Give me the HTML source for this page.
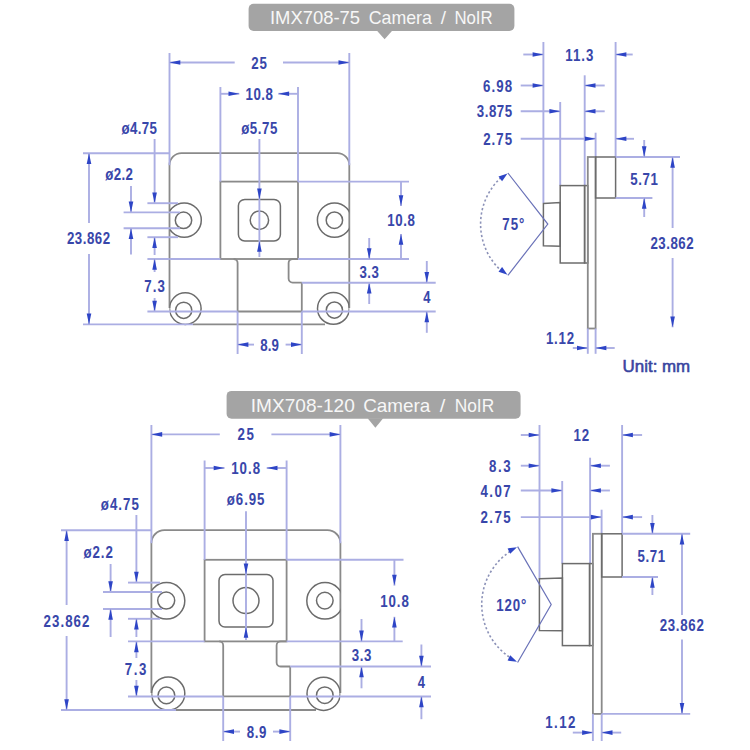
<!DOCTYPE html>
<html><head><meta charset="utf-8"><style>
html,body{margin:0;padding:0;background:#fff;width:750px;height:750px;overflow:hidden}
svg{display:block}
.t{font-family:"Liberation Sans",sans-serif;font-weight:bold;fill:#3846aa;stroke:#3846aa;stroke-width:0.05}
.lb{font-family:"Liberation Sans",sans-serif;fill:#f7f7f7}
.un{font-family:"Liberation Sans",sans-serif;fill:#3a44a0;stroke:#3a44a0;stroke-width:0.55}
</style></head><body>
<svg width="750" height="750" viewBox="0 0 750 750">
<rect x="248.6" y="3.8" width="265.8" height="27.2" rx="5" fill="#a4a4a4"/>
<polygon points="376.8,30.5 392.40000000000003,30.5 384.6,39.2" fill="#a4a4a4"/>
<text x="270.00" y="24.3" textLength="90.02" lengthAdjust="spacingAndGlyphs" font-size="19" class="lb">IMX708-75</text>
<text x="368.70" y="24.3" textLength="63.24" lengthAdjust="spacingAndGlyphs" font-size="19" class="lb">Camera</text>
<text x="440.70" y="24.3" textLength="5.26" lengthAdjust="spacingAndGlyphs" font-size="19" class="lb">/</text>
<text x="454.40" y="24.3" textLength="38.27" lengthAdjust="spacingAndGlyphs" font-size="19" class="lb">NoIR</text>
<path d="M169.5,308 L169.5,165.2 A12,12 0 0 1 181.5,153.2 L337.3,153.2 A12,12 0 0 1 349.3,165.2 L349.3,308" fill="none" stroke="#8a8a8a" stroke-width="1.8"/>
<line x1="193" y1="324.4" x2="325" y2="324.4" stroke="#8a8a8a" stroke-width="1.8"/>
<clipPath id="cl1"><rect x="169.5" y="0" width="200" height="750"/></clipPath>
<clipPath id="cr1"><rect x="100" y="0" width="249.3" height="750"/></clipPath>
<circle cx="184.2" cy="220.1" r="17.1" fill="none" stroke="#6c6c6c" stroke-width="1.5" clip-path="url(#cl1)"/>
<circle cx="183.5" cy="220.3" r="8.2" fill="none" stroke="#6c6c6c" stroke-width="1.5"/>
<circle cx="334.5" cy="220.1" r="17.1" fill="none" stroke="#6c6c6c" stroke-width="1.5" clip-path="url(#cr1)"/>
<circle cx="334.4" cy="220.2" r="8.2" fill="none" stroke="#6c6c6c" stroke-width="1.5"/>
<circle cx="185.3" cy="308.6" r="15.8" fill="none" stroke="#6c6c6c" stroke-width="1.5" clip-path="url(#cl1)"/>
<circle cx="183.7" cy="310.3" r="8.1" fill="none" stroke="#6c6c6c" stroke-width="1.5"/>
<circle cx="333.4" cy="308.4" r="15.9" fill="none" stroke="#6c6c6c" stroke-width="1.5" clip-path="url(#cr1)"/>
<circle cx="334.4" cy="310.1" r="8.1" fill="none" stroke="#6c6c6c" stroke-width="1.5"/>
<rect x="220.4" y="181.6" width="77.6" height="77.4" fill="none" stroke="#8a8a8a" stroke-width="1.8"/>
<rect x="238.4" y="199.4" width="42" height="41.6" rx="6.4" fill="none" stroke="#6c6c6c" stroke-width="1.5"/>
<circle cx="259.4" cy="220.2" r="9.2" fill="none" stroke="#6c6c6c" stroke-width="1.5"/>
<path d="M233.6,259 A4,4 0 0 1 237.6,263 L237.6,311.5 L301.8,311.5 L301.8,282.6" fill="none" stroke="#8a8a8a" stroke-width="1.8"/>
<path d="M298,259 L292.6,259 A4,4 0 0 0 288.6,263 L288.6,278.6 A4,4 0 0 0 292.6,282.6 L301.8,282.6" fill="none" stroke="#8a8a8a" stroke-width="1.8"/>
<line x1="169.5" y1="53" x2="169.5" y2="165.2" stroke="#abaee3" stroke-width="1.9"/>
<line x1="349.3" y1="53" x2="349.3" y2="165.2" stroke="#abaee3" stroke-width="1.9"/>
<line x1="169.5" y1="62.5" x2="234.7" y2="62.5" stroke="#abaee3" stroke-width="1.9"/>
<line x1="283" y1="62.5" x2="349.3" y2="62.5" stroke="#abaee3" stroke-width="1.9"/>
<polygon points="169.5,62.5 180.3,60.2 180.3,64.8" fill="#2e45c6"/>
<polygon points="349.3,62.5 338.5,60.2 338.5,64.8" fill="#2e45c6"/>
<text transform="translate(259.05,68.71) scale(0.85,1)" x="0" y="0" text-anchor="middle" textLength="18.47" lengthAdjust="spacing" font-size="15.6" class="t">25</text>
<line x1="220.4" y1="87" x2="220.4" y2="181.6" stroke="#abaee3" stroke-width="1.9"/>
<line x1="298" y1="87" x2="298" y2="181.6" stroke="#abaee3" stroke-width="1.9"/>
<line x1="220.4" y1="93.8" x2="239.3" y2="93.8" stroke="#abaee3" stroke-width="1.9"/>
<polygon points="239.3,93.8 228.5,91.5 228.5,96.1" fill="#2e45c6"/>
<line x1="278.3" y1="93.8" x2="298" y2="93.8" stroke="#abaee3" stroke-width="1.9"/>
<polygon points="278.3,93.8 289.1,91.5 289.1,96.1" fill="#2e45c6"/>
<text transform="translate(259.25,99.71) scale(0.85,1)" x="0" y="0" text-anchor="middle" textLength="32.35" lengthAdjust="spacing" font-size="15.6" class="t">10.8</text>
<text transform="translate(259.25,134.01) scale(0.85,1)" x="0" y="0" text-anchor="middle" textLength="42.47" lengthAdjust="spacing" font-size="15.6" class="t">ø5.75</text>
<line x1="259.4" y1="139" x2="259.4" y2="257" stroke="#abaee3" stroke-width="1.9"/>
<polygon points="259.4,199.4 257.1,188.6 261.7,188.6" fill="#2e45c6"/>
<polygon points="259.4,241.0 257.1,251.8 261.7,251.8" fill="#2e45c6"/>
<text transform="translate(139.20,134.01) scale(0.85,1)" x="0" y="0" text-anchor="middle" textLength="41.41" lengthAdjust="spacing" font-size="15.6" class="t">ø4.75</text>
<line x1="154.6" y1="139" x2="154.6" y2="203.2" stroke="#abaee3" stroke-width="1.9"/>
<polygon points="154.6,203.2 152.3,192.4 156.9,192.4" fill="#2e45c6"/>
<line x1="147.4" y1="203.2" x2="178" y2="203.2" stroke="#abaee3" stroke-width="1.9"/>
<line x1="147.4" y1="237.2" x2="178" y2="237.2" stroke="#abaee3" stroke-width="1.9"/>
<text transform="translate(119.00,180.01) scale(0.85,1)" x="0" y="0" text-anchor="middle" textLength="32.47" lengthAdjust="spacing" font-size="15.6" class="t">ø2.2</text>
<line x1="131" y1="186" x2="131" y2="212.4" stroke="#abaee3" stroke-width="1.9"/>
<polygon points="131.0,212.4 128.7,201.6 133.3,201.6" fill="#2e45c6"/>
<line x1="123.6" y1="212.4" x2="180" y2="212.4" stroke="#abaee3" stroke-width="1.9"/>
<line x1="123.6" y1="228.3" x2="180" y2="228.3" stroke="#abaee3" stroke-width="1.9"/>
<line x1="131" y1="228.3" x2="131" y2="254.4" stroke="#abaee3" stroke-width="1.9"/>
<polygon points="131.0,228.3 128.7,239.1 133.3,239.1" fill="#2e45c6"/>
<line x1="83" y1="153.2" x2="169.5" y2="153.2" stroke="#abaee3" stroke-width="1.9"/>
<line x1="83" y1="324.4" x2="193" y2="324.4" stroke="#abaee3" stroke-width="1.9"/>
<line x1="89.0" y1="153.2" x2="89.0" y2="223" stroke="#abaee3" stroke-width="1.9"/>
<polygon points="89.0,153.2 86.7,164.0 91.3,164.0" fill="#2e45c6"/>
<line x1="89.0" y1="254" x2="89.0" y2="324.4" stroke="#abaee3" stroke-width="1.9"/>
<polygon points="89.0,324.4 86.7,313.6 91.3,313.6" fill="#2e45c6"/>
<text transform="translate(88.50,244.21) scale(0.85,1)" x="0" y="0" text-anchor="middle" textLength="50.59" lengthAdjust="spacing" font-size="15.6" class="t">23.862</text>
<line x1="154.6" y1="237.2" x2="154.6" y2="255" stroke="#abaee3" stroke-width="1.9"/>
<polygon points="154.6,237.2 152.3,248.0 156.9,248.0" fill="#2e45c6"/>
<line x1="147.4" y1="259" x2="169.5" y2="259" stroke="#abaee3" stroke-width="1.9"/>
<line x1="169.5" y1="259" x2="220.4" y2="259" stroke="#abaee3" stroke-width="1.9"/>
<line x1="154.6" y1="259" x2="154.6" y2="272" stroke="#abaee3" stroke-width="1.9"/>
<polygon points="154.6,259.0 152.3,269.8 156.9,269.8" fill="#2e45c6"/>
<text transform="translate(154.50,291.61) scale(0.85,1)" x="0" y="0" text-anchor="middle" textLength="24.24" lengthAdjust="spacing" font-size="15.6" class="t">7.3</text>
<line x1="154.6" y1="298" x2="154.6" y2="311.5" stroke="#abaee3" stroke-width="1.9"/>
<polygon points="154.6,311.5 152.3,300.7 156.9,300.7" fill="#2e45c6"/>
<line x1="147.4" y1="311.5" x2="237.6" y2="311.5" stroke="#abaee3" stroke-width="1.9"/>
<line x1="301.8" y1="311.5" x2="435.7" y2="311.5" stroke="#abaee3" stroke-width="1.9"/>
<line x1="237.6" y1="311.5" x2="237.6" y2="354" stroke="#abaee3" stroke-width="1.9"/>
<line x1="301.8" y1="311.5" x2="301.8" y2="354" stroke="#abaee3" stroke-width="1.9"/>
<line x1="237.6" y1="344.6" x2="254" y2="344.6" stroke="#abaee3" stroke-width="1.9"/>
<polygon points="237.6,344.6 248.4,342.3 248.4,346.9" fill="#2e45c6"/>
<line x1="285.6" y1="344.6" x2="301.8" y2="344.6" stroke="#abaee3" stroke-width="1.9"/>
<polygon points="301.8,344.6 291.0,342.3 291.0,346.9" fill="#2e45c6"/>
<text transform="translate(269.50,350.61) scale(0.85,1)" x="0" y="0" text-anchor="middle" textLength="21.88" lengthAdjust="spacing" font-size="15.6" class="t">8.9</text>
<line x1="298" y1="181.6" x2="409" y2="181.6" stroke="#abaee3" stroke-width="1.9"/>
<line x1="298" y1="259" x2="409" y2="259" stroke="#abaee3" stroke-width="1.9"/>
<line x1="401" y1="181.6" x2="401" y2="206" stroke="#abaee3" stroke-width="1.9"/>
<polygon points="401.0,206.0 398.7,195.2 403.3,195.2" fill="#2e45c6"/>
<line x1="401" y1="234" x2="401" y2="259" stroke="#abaee3" stroke-width="1.9"/>
<polygon points="401.0,234.0 398.7,244.8 403.3,244.8" fill="#2e45c6"/>
<text transform="translate(401.00,226.01) scale(0.85,1)" x="0" y="0" text-anchor="middle" textLength="32.47" lengthAdjust="spacing" font-size="15.6" class="t">10.8</text>
<line x1="369.2" y1="238" x2="369.2" y2="259" stroke="#abaee3" stroke-width="1.9"/>
<polygon points="369.2,259.0 366.9,248.2 371.5,248.2" fill="#2e45c6"/>
<text transform="translate(369.20,278.01) scale(0.85,1)" x="0" y="0" text-anchor="middle" textLength="23.06" lengthAdjust="spacing" font-size="15.6" class="t">3.3</text>
<line x1="369.2" y1="282.7" x2="369.2" y2="304" stroke="#abaee3" stroke-width="1.9"/>
<polygon points="369.2,282.7 366.9,293.5 371.5,293.5" fill="#2e45c6"/>
<line x1="301.8" y1="282.7" x2="435.7" y2="282.7" stroke="#abaee3" stroke-width="1.9"/>
<line x1="426.8" y1="261" x2="426.8" y2="282.7" stroke="#abaee3" stroke-width="1.9"/>
<polygon points="426.8,282.7 424.5,271.9 429.1,271.9" fill="#2e45c6"/>
<text x="426.8" y="303.0" text-anchor="middle" textLength="7.2" lengthAdjust="spacingAndGlyphs" font-size="15.6" class="t">4</text>
<line x1="426.8" y1="311.5" x2="426.8" y2="332.8" stroke="#abaee3" stroke-width="1.9"/>
<polygon points="426.8,311.5 424.5,322.3 429.1,322.3" fill="#2e45c6"/>
<line x1="543.4" y1="42" x2="543.4" y2="203" stroke="#abaee3" stroke-width="1.9"/>
<line x1="560.2" y1="102" x2="560.2" y2="185.6" stroke="#abaee3" stroke-width="1.9"/>
<line x1="584.7" y1="75.3" x2="584.7" y2="185.6" stroke="#abaee3" stroke-width="1.9"/>
<line x1="595.6" y1="132.7" x2="595.6" y2="157" stroke="#abaee3" stroke-width="1.9"/>
<line x1="615.6" y1="42" x2="615.6" y2="157" stroke="#abaee3" stroke-width="1.9"/>
<line x1="523.3" y1="54.5" x2="543.4" y2="54.5" stroke="#abaee3" stroke-width="1.9"/>
<polygon points="543.4,54.5 532.6,52.2 532.6,56.8" fill="#2e45c6"/>
<line x1="615.6" y1="54.5" x2="632.7" y2="54.5" stroke="#abaee3" stroke-width="1.9"/>
<polygon points="615.6,54.5 626.4,52.2 626.4,56.8" fill="#2e45c6"/>
<text transform="translate(579.30,60.51) scale(0.85,1)" x="0" y="0" text-anchor="middle" textLength="33.18" lengthAdjust="spacing" font-size="15.6" class="t">11.3</text>
<text transform="translate(497.60,91.51) scale(0.85,1)" x="0" y="0" text-anchor="middle" textLength="34.12" lengthAdjust="spacing" font-size="15.6" class="t">6.98</text>
<line x1="520.7" y1="85.5" x2="543.4" y2="85.5" stroke="#abaee3" stroke-width="1.9"/>
<polygon points="543.4,85.5 532.6,83.2 532.6,87.8" fill="#2e45c6"/>
<line x1="584.7" y1="85.5" x2="604.7" y2="85.5" stroke="#abaee3" stroke-width="1.9"/>
<polygon points="584.7,85.5 595.5,83.2 595.5,87.8" fill="#2e45c6"/>
<text transform="translate(494.40,117.31) scale(0.85,1)" x="0" y="0" text-anchor="middle" textLength="41.65" lengthAdjust="spacing" font-size="15.6" class="t">3.875</text>
<line x1="520.7" y1="111.3" x2="560.2" y2="111.3" stroke="#abaee3" stroke-width="1.9"/>
<polygon points="560.2,111.3 549.4,109.0 549.4,113.6" fill="#2e45c6"/>
<line x1="584.7" y1="111.3" x2="604.7" y2="111.3" stroke="#abaee3" stroke-width="1.9"/>
<polygon points="584.7,111.3 595.5,109.0 595.5,113.6" fill="#2e45c6"/>
<text transform="translate(497.65,144.81) scale(0.85,1)" x="0" y="0" text-anchor="middle" textLength="34.00" lengthAdjust="spacing" font-size="15.6" class="t">2.75</text>
<line x1="520.7" y1="138.8" x2="595.6" y2="138.8" stroke="#abaee3" stroke-width="1.9"/>
<polygon points="595.6,138.8 584.8,136.5 584.8,141.1" fill="#2e45c6"/>
<line x1="615.6" y1="138.8" x2="634" y2="138.8" stroke="#abaee3" stroke-width="1.9"/>
<polygon points="615.6,138.8 626.4,136.5 626.4,141.1" fill="#2e45c6"/>
<path d="M543.4,203.6 L560.2,202.6 L560.2,246.2 L543.4,245.8 Z" fill="none" stroke="#6c6c6c" stroke-width="1.5"/>
<rect x="560.2" y="185.6" width="24.4" height="77.4" fill="none" stroke="#6c6c6c" stroke-width="1.5"/>
<rect x="584.6" y="185.6" width="3.2" height="77.4" fill="none" stroke="#6c6c6c" stroke-width="1.5"/>
<rect x="587.8" y="157" width="7.8" height="171.5" fill="none" stroke="#8a8a8a" stroke-width="1.8"/>
<rect x="595.6" y="157" width="20" height="41" fill="none" stroke="#6c6c6c" stroke-width="1.5"/>
<line x1="615.6" y1="157" x2="680" y2="157" stroke="#abaee3" stroke-width="1.9"/>
<line x1="615.6" y1="198" x2="652.4" y2="198" stroke="#abaee3" stroke-width="1.9"/>
<line x1="644.2" y1="140" x2="644.2" y2="157" stroke="#abaee3" stroke-width="1.9"/>
<polygon points="644.2,157.0 641.9,146.2 646.5,146.2" fill="#2e45c6"/>
<text transform="translate(644.00,184.61) scale(0.85,1)" x="0" y="0" text-anchor="middle" textLength="32.47" lengthAdjust="spacing" font-size="15.6" class="t">5.71</text>
<line x1="644.2" y1="198" x2="644.2" y2="217" stroke="#abaee3" stroke-width="1.9"/>
<polygon points="644.2,198.0 641.9,208.8 646.5,208.8" fill="#2e45c6"/>
<line x1="672.6" y1="157" x2="672.6" y2="228" stroke="#abaee3" stroke-width="1.9"/>
<polygon points="672.6,157.0 670.3,167.8 674.9,167.8" fill="#2e45c6"/>
<text transform="translate(672.00,249.01) scale(0.85,1)" x="0" y="0" text-anchor="middle" textLength="50.59" lengthAdjust="spacing" font-size="15.6" class="t">23.862</text>
<line x1="672.6" y1="258" x2="672.6" y2="327.3" stroke="#abaee3" stroke-width="1.9"/>
<polygon points="672.6,327.3 670.3,316.5 674.9,316.5" fill="#2e45c6"/>
<line x1="587.8" y1="328.5" x2="587.8" y2="353.8" stroke="#abaee3" stroke-width="1.9"/>
<line x1="595.6" y1="328.5" x2="595.6" y2="353.8" stroke="#abaee3" stroke-width="1.9"/>
<line x1="572.8" y1="348" x2="587.8" y2="348" stroke="#abaee3" stroke-width="1.9"/>
<polygon points="587.8,348.0 577.0,345.7 577.0,350.3" fill="#2e45c6"/>
<line x1="595.6" y1="348" x2="614.7" y2="348" stroke="#abaee3" stroke-width="1.9"/>
<polygon points="595.6,348.0 606.4,345.7 606.4,350.3" fill="#2e45c6"/>
<text transform="translate(560.00,343.91) scale(0.85,1)" x="0" y="0" text-anchor="middle" textLength="33.18" lengthAdjust="spacing" font-size="15.6" class="t">1.12</text>
<polyline points="507.9,173 547.8,224.1 507.9,275.3" fill="none" stroke="#6a72b8" stroke-width="1.2"/>
<path d="M501,177.6 A63.2,63.2 0 0 0 501,270.6" fill="none" stroke="#8c92b8" stroke-width="1.6" stroke-dasharray="2.2,2.3"/>
<polygon points="507.5,173.4 502.1,181.2 498.5,176.4" fill="#2e45c6"/>
<polygon points="507.5,274.8 498.5,271.8 502.1,267.0" fill="#2e45c6"/>
<text transform="translate(513.30,230.01) scale(0.85,1)" x="0" y="0" text-anchor="middle" textLength="26.12" lengthAdjust="spacing" font-size="15.6" class="t">75°</text>
<text x="622.6" y="372.2" textLength="67.6" lengthAdjust="spacingAndGlyphs" font-size="16.5" class="un">Unit: mm</text>
<rect x="226.6" y="390.9" width="294" height="27.8" rx="5" fill="#a4a4a4"/>
<polygon points="367.59999999999997,418.2 383.2,418.2 375.4,427.7" fill="#a4a4a4"/>
<text x="250.80" y="411.6" textLength="103.95" lengthAdjust="spacingAndGlyphs" font-size="19" class="lb">IMX708-120</text>
<text x="363.20" y="411.6" textLength="67.13" lengthAdjust="spacingAndGlyphs" font-size="19" class="lb">Camera</text>
<text x="439.70" y="411.6" textLength="5.56" lengthAdjust="spacingAndGlyphs" font-size="19" class="lb">/</text>
<text x="454.70" y="411.6" textLength="39.47" lengthAdjust="spacingAndGlyphs" font-size="19" class="lb">NoIR</text>
<path d="M151.4,693 L151.4,543.2 A13,13 0 0 1 164.4,530.2 L327.4,530.2 A13,13 0 0 1 340.4,543.2 L340.4,693" fill="none" stroke="#8a8a8a" stroke-width="1.8"/>
<line x1="176" y1="710" x2="316" y2="710" stroke="#8a8a8a" stroke-width="1.8"/>
<clipPath id="cl2"><rect x="151.4" y="0" width="200" height="750"/></clipPath>
<clipPath id="cr2"><rect x="0" y="0" width="340.4" height="750"/></clipPath>
<circle cx="166.6" cy="600.8" r="18.2" fill="none" stroke="#6c6c6c" stroke-width="1.5" clip-path="url(#cl2)"/>
<circle cx="166.2" cy="600.6" r="8.5" fill="none" stroke="#6c6c6c" stroke-width="1.5"/>
<circle cx="325" cy="600.8" r="18.2" fill="none" stroke="#6c6c6c" stroke-width="1.5" clip-path="url(#cr2)"/>
<circle cx="324.8" cy="600.6" r="8.3" fill="none" stroke="#6c6c6c" stroke-width="1.5"/>
<circle cx="168.2" cy="693.6" r="16.6" fill="none" stroke="#6c6c6c" stroke-width="1.5" clip-path="url(#cl2)"/>
<circle cx="166.4" cy="695.4" r="8.4" fill="none" stroke="#6c6c6c" stroke-width="1.5"/>
<circle cx="323.6" cy="693.8" r="16.6" fill="none" stroke="#6c6c6c" stroke-width="1.5" clip-path="url(#cr2)"/>
<circle cx="324.8" cy="695.2" r="8.3" fill="none" stroke="#6c6c6c" stroke-width="1.5"/>
<rect x="204.6" y="559.8" width="82.00000000000003" height="81.60000000000002" fill="none" stroke="#8a8a8a" stroke-width="1.8"/>
<rect x="219" y="574.4" width="54" height="52.6" rx="6" fill="none" stroke="#6c6c6c" stroke-width="1.5"/>
<circle cx="246" cy="600.6" r="13" fill="none" stroke="#6c6c6c" stroke-width="1.5"/>
<path d="M219.2,641.4 A4,4 0 0 1 223.2,645.4 L223.2,696.4 L290.2,696.4 L290.2,666.5" fill="none" stroke="#8a8a8a" stroke-width="1.8"/>
<path d="M286.6,641.4 L280.6,641.4 A4,4 0 0 0 276.6,645.4 L276.6,662.5 A4,4 0 0 0 280.6,666.5 L290.2,666.5" fill="none" stroke="#8a8a8a" stroke-width="1.8"/>
<line x1="151.4" y1="425" x2="151.4" y2="543.2" stroke="#abaee3" stroke-width="1.9"/>
<line x1="340.4" y1="425" x2="340.4" y2="543.2" stroke="#abaee3" stroke-width="1.9"/>
<line x1="151.4" y1="434.4" x2="219.8" y2="434.4" stroke="#abaee3" stroke-width="1.9"/>
<line x1="271.4" y1="434.4" x2="340.4" y2="434.4" stroke="#abaee3" stroke-width="1.9"/>
<polygon points="151.4,434.4 162.2,432.1 162.2,436.7" fill="#2e45c6"/>
<polygon points="340.4,434.4 329.6,432.1 329.6,436.7" fill="#2e45c6"/>
<text transform="translate(245.60,440.41) scale(0.85,1)" x="0" y="0" text-anchor="middle" textLength="19.29" lengthAdjust="spacing" font-size="15.6" class="t">25</text>
<line x1="204.6" y1="460.5" x2="204.6" y2="559.8" stroke="#abaee3" stroke-width="1.9"/>
<line x1="286.6" y1="460.5" x2="286.6" y2="559.8" stroke="#abaee3" stroke-width="1.9"/>
<line x1="204.6" y1="468" x2="224.5" y2="468" stroke="#abaee3" stroke-width="1.9"/>
<polygon points="224.5,468.0 213.7,465.7 213.7,470.3" fill="#2e45c6"/>
<line x1="266.7" y1="468" x2="286.6" y2="468" stroke="#abaee3" stroke-width="1.9"/>
<polygon points="266.7,468.0 277.5,465.7 277.5,470.3" fill="#2e45c6"/>
<text transform="translate(245.60,474.01) scale(0.85,1)" x="0" y="0" text-anchor="middle" textLength="33.88" lengthAdjust="spacing" font-size="15.6" class="t">10.8</text>
<text transform="translate(245.60,504.81) scale(0.85,1)" x="0" y="0" text-anchor="middle" textLength="44.24" lengthAdjust="spacing" font-size="15.6" class="t">ø6.95</text>
<line x1="246" y1="511.2" x2="246" y2="640" stroke="#abaee3" stroke-width="1.9"/>
<polygon points="246.0,574.4 243.7,563.6 248.3,563.6" fill="#2e45c6"/>
<polygon points="246.0,627.0 243.7,637.8 248.3,637.8" fill="#2e45c6"/>
<text transform="translate(119.80,510.41) scale(0.85,1)" x="0" y="0" text-anchor="middle" textLength="44.71" lengthAdjust="spacing" font-size="15.6" class="t">ø4.75</text>
<line x1="136.4" y1="515" x2="136.4" y2="582.6" stroke="#abaee3" stroke-width="1.9"/>
<polygon points="136.4,582.6 134.1,571.8 138.7,571.8" fill="#2e45c6"/>
<line x1="128" y1="582.6" x2="160" y2="582.6" stroke="#abaee3" stroke-width="1.9"/>
<line x1="128" y1="618.8" x2="160" y2="618.8" stroke="#abaee3" stroke-width="1.9"/>
<text transform="translate(98.20,558.41) scale(0.85,1)" x="0" y="0" text-anchor="middle" textLength="34.35" lengthAdjust="spacing" font-size="15.6" class="t">ø2.2</text>
<line x1="110.6" y1="564" x2="110.6" y2="592" stroke="#abaee3" stroke-width="1.9"/>
<polygon points="110.6,592.0 108.3,581.2 112.9,581.2" fill="#2e45c6"/>
<line x1="103" y1="592" x2="162" y2="592" stroke="#abaee3" stroke-width="1.9"/>
<line x1="103" y1="609" x2="162" y2="609" stroke="#abaee3" stroke-width="1.9"/>
<line x1="110.6" y1="609" x2="110.6" y2="637" stroke="#abaee3" stroke-width="1.9"/>
<polygon points="110.6,609.0 108.3,619.8 112.9,619.8" fill="#2e45c6"/>
<line x1="61" y1="530.2" x2="151.4" y2="530.2" stroke="#abaee3" stroke-width="1.9"/>
<line x1="61" y1="710" x2="176" y2="710" stroke="#abaee3" stroke-width="1.9"/>
<line x1="66.6" y1="530.2" x2="66.6" y2="605" stroke="#abaee3" stroke-width="1.9"/>
<polygon points="66.6,530.2 64.3,541.0 68.9,541.0" fill="#2e45c6"/>
<line x1="66.6" y1="636" x2="66.6" y2="710" stroke="#abaee3" stroke-width="1.9"/>
<polygon points="66.6,710.0 64.3,699.2 68.9,699.2" fill="#2e45c6"/>
<text transform="translate(66.50,626.61) scale(0.85,1)" x="0" y="0" text-anchor="middle" textLength="53.88" lengthAdjust="spacing" font-size="15.6" class="t">23.862</text>
<line x1="136.4" y1="618.8" x2="136.4" y2="637" stroke="#abaee3" stroke-width="1.9"/>
<polygon points="136.4,618.8 134.1,629.6 138.7,629.6" fill="#2e45c6"/>
<line x1="128" y1="641.4" x2="204.6" y2="641.4" stroke="#abaee3" stroke-width="1.9"/>
<line x1="136.4" y1="641.4" x2="136.4" y2="658" stroke="#abaee3" stroke-width="1.9"/>
<polygon points="136.4,641.4 134.1,652.2 138.7,652.2" fill="#2e45c6"/>
<text transform="translate(135.60,675.01) scale(0.85,1)" x="0" y="0" text-anchor="middle" textLength="25.41" lengthAdjust="spacing" font-size="15.6" class="t">7.3</text>
<line x1="136.4" y1="680" x2="136.4" y2="696.5" stroke="#abaee3" stroke-width="1.9"/>
<polygon points="136.4,696.5 134.1,685.7 138.7,685.7" fill="#2e45c6"/>
<line x1="128" y1="696.5" x2="223.2" y2="696.5" stroke="#abaee3" stroke-width="1.9"/>
<line x1="290.2" y1="696.5" x2="431" y2="696.5" stroke="#abaee3" stroke-width="1.9"/>
<line x1="223.2" y1="696.5" x2="223.2" y2="741" stroke="#abaee3" stroke-width="1.9"/>
<line x1="290.2" y1="696.5" x2="290.2" y2="741" stroke="#abaee3" stroke-width="1.9"/>
<line x1="223.2" y1="731.6" x2="240" y2="731.6" stroke="#abaee3" stroke-width="1.9"/>
<polygon points="223.2,731.6 234.0,729.3 234.0,733.9" fill="#2e45c6"/>
<line x1="273" y1="731.6" x2="290.2" y2="731.6" stroke="#abaee3" stroke-width="1.9"/>
<polygon points="290.2,731.6 279.4,729.3 279.4,733.9" fill="#2e45c6"/>
<text transform="translate(256.60,737.61) scale(0.85,1)" x="0" y="0" text-anchor="middle" textLength="23.06" lengthAdjust="spacing" font-size="15.6" class="t">8.9</text>
<line x1="286.6" y1="559.8" x2="403.5" y2="559.8" stroke="#abaee3" stroke-width="1.9"/>
<line x1="286.6" y1="641.4" x2="402.7" y2="641.4" stroke="#abaee3" stroke-width="1.9"/>
<line x1="394.4" y1="559.8" x2="394.4" y2="585.6" stroke="#abaee3" stroke-width="1.9"/>
<polygon points="394.4,585.6 392.1,574.8 396.7,574.8" fill="#2e45c6"/>
<line x1="394.4" y1="616.8" x2="394.4" y2="641.4" stroke="#abaee3" stroke-width="1.9"/>
<polygon points="394.4,616.8 392.1,627.6 396.7,627.6" fill="#2e45c6"/>
<text transform="translate(394.50,606.71) scale(0.85,1)" x="0" y="0" text-anchor="middle" textLength="33.65" lengthAdjust="spacing" font-size="15.6" class="t">10.8</text>
<line x1="361.5" y1="619" x2="361.5" y2="641.4" stroke="#abaee3" stroke-width="1.9"/>
<polygon points="361.5,641.4 359.2,630.6 363.8,630.6" fill="#2e45c6"/>
<text transform="translate(361.50,660.61) scale(0.85,1)" x="0" y="0" text-anchor="middle" textLength="23.06" lengthAdjust="spacing" font-size="15.6" class="t">3.3</text>
<line x1="361.5" y1="666.5" x2="361.5" y2="688.3" stroke="#abaee3" stroke-width="1.9"/>
<polygon points="361.5,666.5 359.2,677.3 363.8,677.3" fill="#2e45c6"/>
<line x1="290.2" y1="666.5" x2="431" y2="666.5" stroke="#abaee3" stroke-width="1.9"/>
<line x1="421.4" y1="644.5" x2="421.4" y2="666.5" stroke="#abaee3" stroke-width="1.9"/>
<polygon points="421.4,666.5 419.1,655.7 423.7,655.7" fill="#2e45c6"/>
<text x="421.4" y="688.3" text-anchor="middle" textLength="7.2" lengthAdjust="spacingAndGlyphs" font-size="15.6" class="t">4</text>
<line x1="421.4" y1="696.5" x2="421.4" y2="719.2" stroke="#abaee3" stroke-width="1.9"/>
<polygon points="421.4,696.5 419.1,707.3 423.7,707.3" fill="#2e45c6"/>
<line x1="539.5" y1="425" x2="539.5" y2="578.6" stroke="#abaee3" stroke-width="1.9"/>
<line x1="562.2" y1="481" x2="562.2" y2="563.6" stroke="#abaee3" stroke-width="1.9"/>
<line x1="590.1" y1="457.7" x2="590.1" y2="563.6" stroke="#abaee3" stroke-width="1.9"/>
<line x1="601.6" y1="509.7" x2="601.6" y2="533.8" stroke="#abaee3" stroke-width="1.9"/>
<line x1="622.1" y1="425" x2="622.1" y2="533.8" stroke="#abaee3" stroke-width="1.9"/>
<line x1="520.8" y1="435" x2="539.5" y2="435" stroke="#abaee3" stroke-width="1.9"/>
<polygon points="539.5,435.0 528.7,432.7 528.7,437.3" fill="#2e45c6"/>
<line x1="622.1" y1="435" x2="642.1" y2="435" stroke="#abaee3" stroke-width="1.9"/>
<polygon points="622.1,435.0 632.9,432.7 632.9,437.3" fill="#2e45c6"/>
<text transform="translate(581.30,441.01) scale(0.85,1)" x="0" y="0" text-anchor="middle" textLength="18.35" lengthAdjust="spacing" font-size="15.6" class="t">12</text>
<text transform="translate(499.90,471.71) scale(0.85,1)" x="0" y="0" text-anchor="middle" textLength="25.41" lengthAdjust="spacing" font-size="15.6" class="t">8.3</text>
<line x1="520.8" y1="465.7" x2="539.5" y2="465.7" stroke="#abaee3" stroke-width="1.9"/>
<polygon points="539.5,465.7 528.7,463.4 528.7,468.0" fill="#2e45c6"/>
<line x1="590.1" y1="465.7" x2="609.9" y2="465.7" stroke="#abaee3" stroke-width="1.9"/>
<polygon points="590.1,465.7 600.9,463.4 600.9,468.0" fill="#2e45c6"/>
<text transform="translate(495.60,496.51) scale(0.85,1)" x="0" y="0" text-anchor="middle" textLength="35.53" lengthAdjust="spacing" font-size="15.6" class="t">4.07</text>
<line x1="520.8" y1="490.5" x2="562.2" y2="490.5" stroke="#abaee3" stroke-width="1.9"/>
<polygon points="562.2,490.5 551.4,488.2 551.4,492.8" fill="#2e45c6"/>
<line x1="590.1" y1="490.5" x2="609.9" y2="490.5" stroke="#abaee3" stroke-width="1.9"/>
<polygon points="590.1,490.5 600.9,488.2 600.9,492.8" fill="#2e45c6"/>
<text transform="translate(495.60,523.11) scale(0.85,1)" x="0" y="0" text-anchor="middle" textLength="35.53" lengthAdjust="spacing" font-size="15.6" class="t">2.75</text>
<line x1="520.8" y1="517.1" x2="601.6" y2="517.1" stroke="#abaee3" stroke-width="1.9"/>
<polygon points="601.6,517.1 590.8,514.8 590.8,519.4" fill="#2e45c6"/>
<line x1="622.1" y1="517.1" x2="642.1" y2="517.1" stroke="#abaee3" stroke-width="1.9"/>
<polygon points="622.1,517.1 632.9,514.8 632.9,519.4" fill="#2e45c6"/>
<path d="M539.4,578.8 L562.4,578 L562.4,630.8 L539.4,630.4 Z" fill="none" stroke="#6c6c6c" stroke-width="1.5"/>
<rect x="562.4" y="563.6" width="27.2" height="82" fill="none" stroke="#6c6c6c" stroke-width="1.5"/>
<rect x="589.6" y="563.6" width="3.2" height="82" fill="none" stroke="#6c6c6c" stroke-width="1.5"/>
<rect x="592.9" y="533.8" width="8.8" height="180.1" fill="none" stroke="#8a8a8a" stroke-width="1.8"/>
<rect x="601.7" y="533.8" width="20.4" height="43.2" fill="none" stroke="#6c6c6c" stroke-width="1.5"/>
<line x1="622.1" y1="533.8" x2="690.2" y2="533.8" stroke="#abaee3" stroke-width="1.9"/>
<line x1="622.1" y1="577" x2="658" y2="577" stroke="#abaee3" stroke-width="1.9"/>
<line x1="601.7" y1="713.9" x2="690.2" y2="713.9" stroke="#abaee3" stroke-width="1.9"/>
<line x1="652.4" y1="515" x2="652.4" y2="533.8" stroke="#abaee3" stroke-width="1.9"/>
<polygon points="652.4,533.8 650.1,523.0 654.7,523.0" fill="#2e45c6"/>
<text transform="translate(651.30,561.91) scale(0.85,1)" x="0" y="0" text-anchor="middle" textLength="32.47" lengthAdjust="spacing" font-size="15.6" class="t">5.71</text>
<line x1="652.4" y1="577" x2="652.4" y2="595" stroke="#abaee3" stroke-width="1.9"/>
<polygon points="652.4,577.0 650.1,587.8 654.7,587.8" fill="#2e45c6"/>
<line x1="682" y1="533.8" x2="682" y2="615" stroke="#abaee3" stroke-width="1.9"/>
<polygon points="682.0,533.8 679.7,544.6 684.3,544.6" fill="#2e45c6"/>
<text transform="translate(681.75,631.01) scale(0.85,1)" x="0" y="0" text-anchor="middle" textLength="51.88" lengthAdjust="spacing" font-size="15.6" class="t">23.862</text>
<line x1="682" y1="639.6" x2="682" y2="713.9" stroke="#abaee3" stroke-width="1.9"/>
<polygon points="682.0,713.9 679.7,703.1 684.3,703.1" fill="#2e45c6"/>
<line x1="592.9" y1="713.9" x2="592.9" y2="741" stroke="#abaee3" stroke-width="1.9"/>
<line x1="601.7" y1="713.9" x2="601.7" y2="741" stroke="#abaee3" stroke-width="1.9"/>
<line x1="572.8" y1="732.6" x2="592.9" y2="732.6" stroke="#abaee3" stroke-width="1.9"/>
<polygon points="592.9,732.6 582.1,730.3 582.1,734.9" fill="#2e45c6"/>
<line x1="601.7" y1="732.6" x2="621.2" y2="732.6" stroke="#abaee3" stroke-width="1.9"/>
<polygon points="601.7,732.6 612.5,730.3 612.5,734.9" fill="#2e45c6"/>
<text transform="translate(560.30,727.81) scale(0.85,1)" x="0" y="0" text-anchor="middle" textLength="35.53" lengthAdjust="spacing" font-size="15.6" class="t">1.12</text>
<polyline points="517.6,546.6 551.2,604.5 517.6,662.5" fill="none" stroke="#6a72b8" stroke-width="1.2"/>
<path d="M510,551.5 A63.8,63.8 0 0 0 510,657.5" fill="none" stroke="#8c92b8" stroke-width="1.6" stroke-dasharray="2.2,2.3"/>
<polygon points="517.0,547.2 510.2,553.8 507.6,548.4" fill="#2e45c6"/>
<polygon points="517.0,661.8 507.6,660.6 510.2,655.2" fill="#2e45c6"/>
<text transform="translate(511.20,611.01) scale(0.85,1)" x="0" y="0" text-anchor="middle" textLength="35.29" lengthAdjust="spacing" font-size="15.6" class="t">120°</text>
</svg>
</body></html>
